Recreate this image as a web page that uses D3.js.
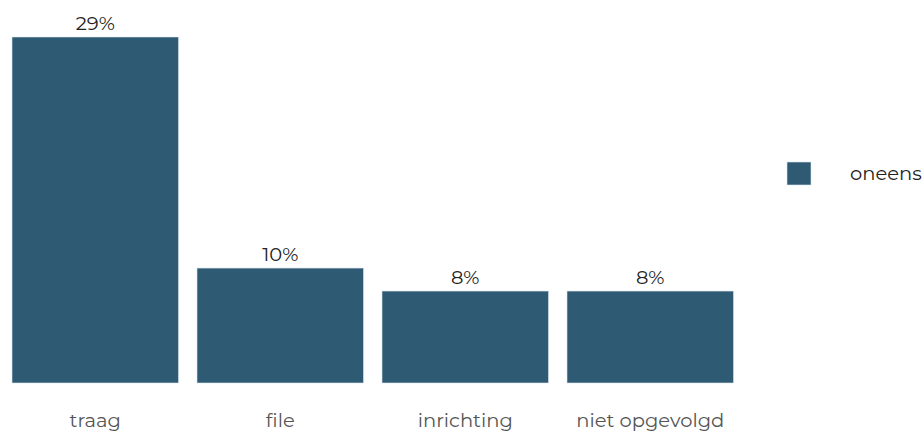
<!DOCTYPE html>
<html>
<head>
<meta charset="utf-8">
<script src="https://cdn.jsdelivr.net/npm/d3@7"></script>
<style>
  body { margin: 0; background: #fff; }
  svg { display: block; font-family: "Montserrat", "Open Sans", sans-serif; }
</style>
</head>
<body>
<div id="chart"></div>
<script>
// data
var categories = ["traag", "file", "inrichting", "niet opgevolgd"];
var values = [30.1, 10, 8, 8];
var valueLabels = ["29%", "10%", "8%", "8%"];
var seriesName = "oneens";

var width = 923, height = 432;
var barColor = "#2e5a73";

var svg = d3.select("#chart").append("svg")
    .attr("width", width)
    .attr("height", height);

var x = d3.scaleBand()
    .domain(categories)
    .range([12, 733.5])
    .paddingInner(0.1)
    .paddingOuter(0);

var y = d3.scaleLinear()
    .domain([0, d3.max(values)])
    .range([383, 37]);

var data = categories.map(function (c, i) {
    return { cat: c, value: values[i], label: valueLabels[i] };
});

// bars
svg.selectAll("rect.bar")
    .data(data)
    .enter().append("rect")
    .attr("class", "bar")
    .attr("x", function (d) { return x(d.cat); })
    .attr("y", function (d) { return y(d.value); })
    .attr("width", x.bandwidth())
    .attr("height", function (d) { return y(0) - y(d.value); })
    .attr("fill", barColor)
    .attr("stroke", "#dbe6ee")
    .attr("stroke-width", 0.6);

// value labels
svg.selectAll("text.val")
    .data(data)
    .enter().append("text")
    .attr("class", "val")
    .attr("x", function (d) { return x(d.cat) + x.bandwidth() / 2; })
    .attr("y", function (d) { return y(d.value) - 7; })
    .attr("text-anchor", "middle")
    .style("font-size", "19.5px")
    .style("fill", "#222")
    .text(function (d) { return d.label; });

// x axis (labels only)
var xAxis = svg.append("g")
    .attr("transform", "translate(0," + 383 + ")")
    .call(d3.axisBottom(x).tickSize(0).tickPadding(30));
xAxis.select(".domain").remove();
xAxis.selectAll("text")
    .style("font-size", "19.5px")
    .style("font-family", "\"Montserrat\", \"Open Sans\", sans-serif")
    .style("fill", "#555");

// legend
var legend = svg.append("g").attr("transform", "translate(787,162)");
legend.append("rect")
    .attr("width", 24)
    .attr("height", 23)
    .attr("fill", barColor)
    .attr("stroke", "#dbe6ee")
    .attr("stroke-width", 0.6);
legend.append("text")
    .attr("x", 63)
    .attr("y", 18)
    .style("font-size", "19.5px")
    .style("fill", "#222")
    .text(seriesName);
</script>
</body>
</html>
